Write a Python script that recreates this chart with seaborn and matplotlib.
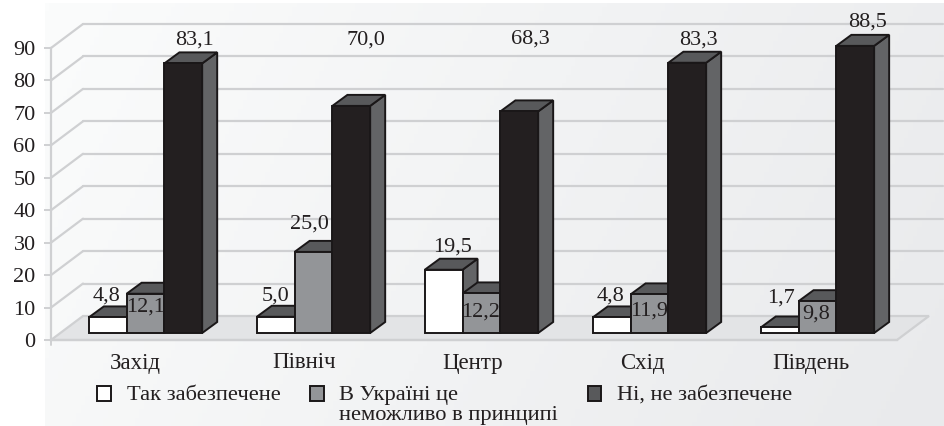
import numpy as np
import pandas as pd
import seaborn as sns
import matplotlib
matplotlib.use("Agg")
import matplotlib.pyplot as plt
from matplotlib.colors import LinearSegmentedColormap
from matplotlib.patches import Polygon, Patch
from matplotlib.transforms import Affine2D, IdentityTransform

regions = ["Захід", "Північ", "Центр", "Схід", "Південь"]
answers = ["Так забезпечене", "В Україні це\nнеможливо в принципі", "Ні, не забезпечене"]
yes_values = [4.8, 5.0, 19.5, 4.8, 1.7]
impossible_values = [12.1, 25.0, 12.2, 11.9, 9.8]
no_values = [83.1, 70.0, 68.3, 83.3, 88.5]
y_ticks = list(range(0, 100, 10))

# layout (pixels)
W, H, DPI = 944, 426, 100
FRONT_COL = ["#ffffff", "#939598", "#231f20"]
SIDE_COL = ["#636466", "#636466", "#636466"]
TOP_COL = ["#58595b", "#58595b", "#58595b"]
WALL = (32, 24)
BAR_SHIFT = (10.5, 7)
BAR_DEPTH = (15, 11)
LABEL_OFFSETS = [
    [(-1, 21), (0, -13), (11, 23)],
    [(0, 21), (-4, 28), (15, 66)],
    [(9, 23), (-1, -19), (11, 72)],
    [(-1, 21), (0, -17), (11, 23)],
    [(1, 29), (-1, -13), (12, 24)],
]
PX = IdentityTransform()

sns.set_theme(style="white")
plt.rcParams["font.family"] = ["Liberation Serif", "DejaVu Serif"]
plt.rcParams["text.color"] = "#231f20"

fig = plt.figure(figsize=(W / DPI, H / DPI), dpi=DPI, facecolor="white")

# soft page background
bg = fig.add_axes([45 / W, 0, (W - 45) / W, (H - 3) / H], zorder=0)
gx, gy = np.meshgrid(np.linspace(0, 1, 200), np.linspace(0, 1, 100))
bg.imshow(0.8 * gx + 0.2 * gy, aspect="auto", origin="upper", vmin=0, vmax=1,
          cmap=LinearSegmentedColormap.from_list("bg", ["#fbfcfc", "#e9eaec"]))
bg.axis("off")

ax = fig.add_axes([51 / W, (H - 340) / H, 846 / W, 292 / H], zorder=1)
ax.patch.set_alpha(0)

df = pd.DataFrame({
    "region": regions * 3,
    "answer": np.repeat(answers, len(regions)),
    "value": yes_values + impossible_values + no_values,
})
sns.barplot(data=df, x="region", y="value", hue="answer", order=regions, hue_order=answers,
            palette=FRONT_COL, width=0.675, saturation=1, edgecolor="#1a1718", linewidth=1.4,
            legend=False, ax=ax, errorbar=None)

ax.set_xlim(-0.5, 4.536)
ax.set_ylim(0, 90)
ax.set_xlabel("")
ax.set_ylabel("")


def shifted(dx, dy):
    return ax.transData + Affine2D().translate(dx, dy)


grid_c = "#cfd0d2"
back = shifted(*WALL)
# floor
floor_pts = ax.transData.transform([(-0.5, 0), (4.536, 0)])
floor_pts = np.vstack([floor_pts, floor_pts[::-1] + WALL])
ax.add_patch(Polygon(floor_pts, closed=True, transform=PX, facecolor="#e3e4e6",
                     edgecolor=grid_c, lw=1.6, zorder=1, clip_on=False))
# walls
for v in y_ticks[1:]:
    ax.plot([-0.5, 4.62], [v, v], color=grid_c, lw=1.6, transform=back, clip_on=False, zorder=1)
    p = ax.transData.transform((-0.5, v))
    ax.plot([p[0], p[0] + WALL[0]], [p[1], p[1] + WALL[1]], color=grid_c, lw=1.6,
            transform=PX, clip_on=False, zorder=1)

# extruded bars built from the bars seaborn drew
edge = "#1a1718"
for h, cont in enumerate(ax.containers):
    for g, bar in enumerate(cont):
        z = 3 + h
        bar.set_transform(shifted(*BAR_SHIFT))
        bar.set_zorder(z + 0.2)
        bar.set_clip_on(False)
        x0, wid, top = bar.get_x(), bar.get_width(), bar.get_height()
        (xa, ya), (xb, yb) = ax.transData.transform([(x0, 0), (x0 + wid, top)])
        xa, xb = xa + BAR_SHIFT[0], xb + BAR_SHIFT[0]
        ya, yb = ya + BAR_SHIFT[1], yb + BAR_SHIFT[1]
        dx, dy = BAR_DEPTH
        ax.add_patch(Polygon([(xb, ya), (xb + dx, ya + dy), (xb + dx, yb + dy), (xb, yb)],
                             transform=PX, facecolor=SIDE_COL[h], edgecolor=edge, lw=1.4,
                             zorder=z, clip_on=False))
        ax.add_patch(Polygon([(xa, yb), (xb, yb), (xb + dx, yb + dy), (xa + dx, yb + dy)],
                             transform=PX, facecolor=TOP_COL[h], edgecolor=edge, lw=1.4,
                             zorder=z, clip_on=False))
        off = LABEL_OFFSETS[g][h]
        ax.annotate(f"{top:.1f}".replace(".", ","), xy=(xa + (xb - xa) / 2, yb),
                    xycoords="figure pixels", xytext=off, textcoords="offset pixels",
                    ha="center", va="center", fontsize=16, zorder=10, annotation_clip=False)

# axes
for s in ("top", "right"):
    ax.spines[s].set_visible(False)
for s in ("left", "bottom"):
    ax.spines[s].set_visible(True)
    ax.spines[s].set_color(grid_c)
    ax.spines[s].set_linewidth(1.6)
    ax.spines[s].set_zorder(2)
ax.set_yticks(y_ticks)
ax.set_xticks([i * 169 / 168 for i in range(len(regions))])
ax.set_xticklabels(regions)
ax.tick_params(axis="y", length=5, width=1.4, color=grid_c, left=True, pad=6, labelsize=16)
ax.tick_params(axis="x", length=0, pad=9, labelsize=16.5)
for lab in ax.get_yticklabels() + ax.get_xticklabels():
    lab.set_color("#231f20")
ax.plot([-0.5, -0.5], [0, -5 / 3.24], color=grid_c, lw=1.4, clip_on=False, zorder=2)

handles = [Patch(facecolor=FRONT_COL[0], edgecolor=edge, lw=1.4),
           Patch(facecolor=FRONT_COL[1], edgecolor=edge, lw=1.4),
           Patch(facecolor=TOP_COL[2], edgecolor=edge, lw=1.4)]
leg = fig.legend(handles, answers, ncol=3, frameon=False, fontsize=16.2,
                 loc="upper left", bbox_to_anchor=(97 / W, (H - 386) / H),
                 borderpad=0, borderaxespad=0, handlelength=0.62, handleheight=0.62,
                 handletextpad=0.7, columnspacing=1.3, labelspacing=0)
for t in leg.get_texts():
    t.set_linespacing(1.08)
leg._legend_handle_box.align = "top"
for column in leg._legend_handle_box.get_children():
    for row in column.get_children():
        row.align = "top"
fig.savefig("out.png", dpi=DPI, facecolor="white")
